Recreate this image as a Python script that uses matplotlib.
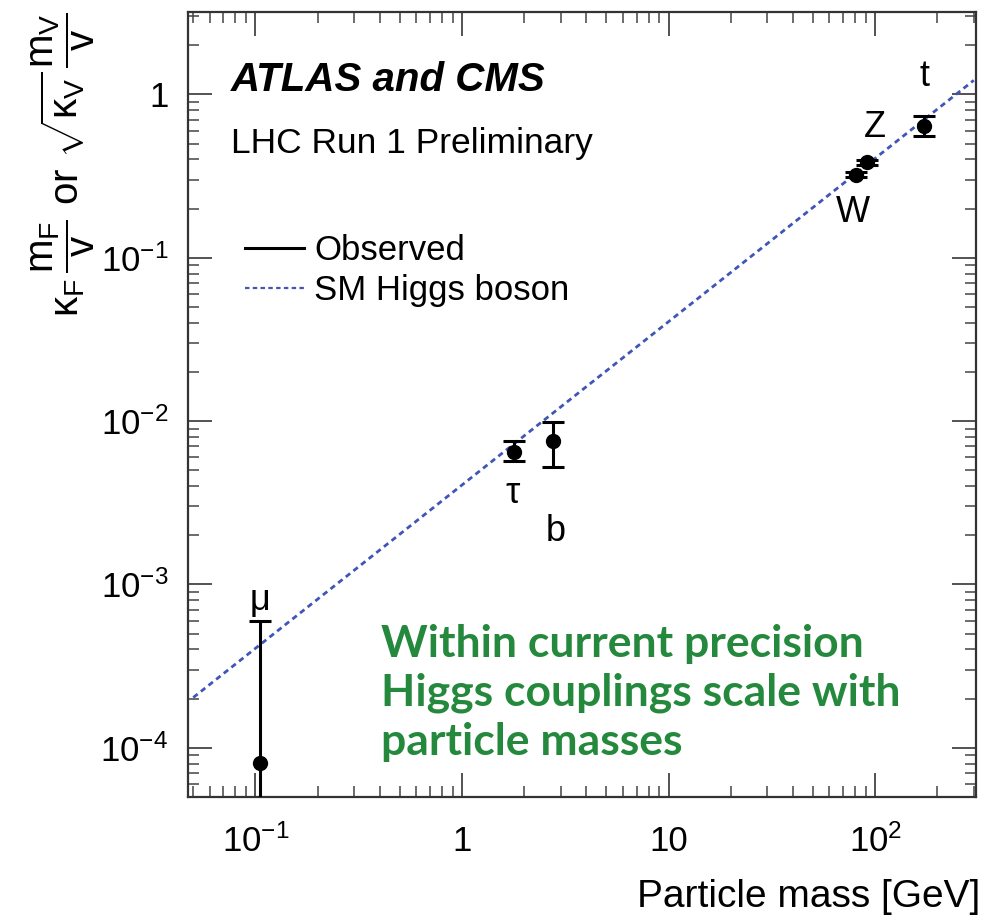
import numpy as np
import matplotlib
matplotlib.use("Agg")
import matplotlib.pyplot as plt
from matplotlib.lines import Line2D
from matplotlib.ticker import FixedLocator, LogLocator, NullFormatter

plt.rcParams['font.family'] = ['Liberation Sans', 'DejaVu Sans']
plt.rcParams['mathtext.fontset'] = 'custom'
plt.rcParams['mathtext.rm'] = 'Liberation Sans'
plt.rcParams['mathtext.it'] = 'Liberation Sans'
plt.rcParams['mathtext.bf'] = 'Liberation Sans:bold'

# particle data
particles = ['μ', 'τ', 'b', 'W', 'Z', 't']
mass = [0.1057, 1.777, 2.76, 80.4, 91.19, 172.5]
coupling = [8.1e-5, 6.5e-3, 7.6e-3, 0.323, 0.385, 0.637]
err_lo = [8.09e-5, 0.8e-3, 2.4e-3, 0.012, 0.014, 0.084]
err_hi = [5.2e-4, 1.0e-3, 2.3e-3, 0.012, 0.014, 0.096]

# SM line endpoints
sm_x = [0.05, 300]
sm_y = [2.03e-4, 1.22]

# label positions (data coords)
lab_x = [0.1057, 1.75, 2.85, 78, 100, 172.5]
lab_y = [8.0e-4, 3.6e-3, 2.1e-3, 0.19, 0.63, 1.28]

fig = plt.figure(figsize=(9.88, 9.17), dpi=100)
ax = fig.add_axes([0.190, 0.131, 0.798, 0.856])

ax.plot(sm_x, sm_y, color='#4055b8', ls=(0, (2.0, 1.5)), lw=2.0, zorder=2)
ax.errorbar(mass, coupling, yerr=[err_lo, err_hi], fmt='o', color='black',
            ms=10, lw=2.2, capsize=8, capthick=2.2, zorder=3)

for name, x, y in zip(particles, lab_x, lab_y):
    ax.text(x, y, name, fontsize=26, ha='center', va='center')

ax.set_xscale('log')
ax.set_yscale('log')
ax.set_xlim(0.047, 308)
ax.set_ylim(5e-5, 3.2)

ax.xaxis.set_major_locator(FixedLocator([0.1, 1, 10, 100]))
ax.set_xticklabels([r'$10^{-1}$', '1', '10', r'$10^{2}$'])
ax.xaxis.set_minor_locator(LogLocator(base=10, subs=np.arange(2, 10), numticks=20))
ax.xaxis.set_minor_formatter(NullFormatter())
ax.yaxis.set_major_locator(FixedLocator([1e-4, 1e-3, 1e-2, 1e-1, 1]))
ax.set_yticklabels([r'$10^{-4}$', r'$10^{-3}$', r'$10^{-2}$', r'$10^{-1}$', '1'])
ax.yaxis.set_minor_locator(LogLocator(base=10, subs=np.arange(2, 10), numticks=20))
ax.yaxis.set_minor_formatter(NullFormatter())

ax.tick_params(which='both', direction='in', top=True, right=True, labelsize=25,
               color='#444444')
ax.tick_params(which='major', length=17, width=1.3, pad=14)
ax.tick_params(which='minor', length=8, width=1.1)
ax.tick_params(axis='x', which='major', pad=20)
for s in ax.spines.values():
    s.set_linewidth(1.6)
    s.set_color('#333333')

ax.set_xlabel('Particle mass [GeV]', fontsize=28, loc='right')
ax.xaxis.set_label_coords(1.005, -0.105)
ax.set_ylabel(r'$\kappa_F\,\dfrac{m_F}{v}$ or $\sqrt{\kappa_V}\,\dfrac{m_V}{v}$',
              fontsize=29, loc='top')
ax.yaxis.set_label_coords(-0.115, 1.0)

ax.text(0.055, 0.913, 'ATLAS and CMS', transform=ax.transAxes, fontsize=29,
        fontweight='bold', fontstyle='italic', va='center')
ax.text(0.055, 0.833, 'LHC Run 1 Preliminary', transform=ax.transAxes, fontsize=25.5,
        va='center')

handles = [Line2D([], [], color='black', lw=2.2),
           Line2D([], [], color='#4055b8', ls=(0, (2.0, 1.5)), lw=1.6)]
ax.legend(handles, ['Observed', 'SM Higgs boson'], loc='upper left',
          bbox_to_anchor=(0.033, 0.757), frameon=False, fontsize=25,
          handlelength=1.7, handletextpad=0.3, labelspacing=0.2)

ax.text(0.245, 0.1325, 'Within current precision\nHiggs couplings scale with\nparticle masses',
        transform=ax.transAxes, fontsize=32, fontweight='bold', color='#24893d',
        family=['Lato', 'DejaVu Sans'], va='center', ha='left', linespacing=1.27)

fig.savefig('out.png', dpi=100)
